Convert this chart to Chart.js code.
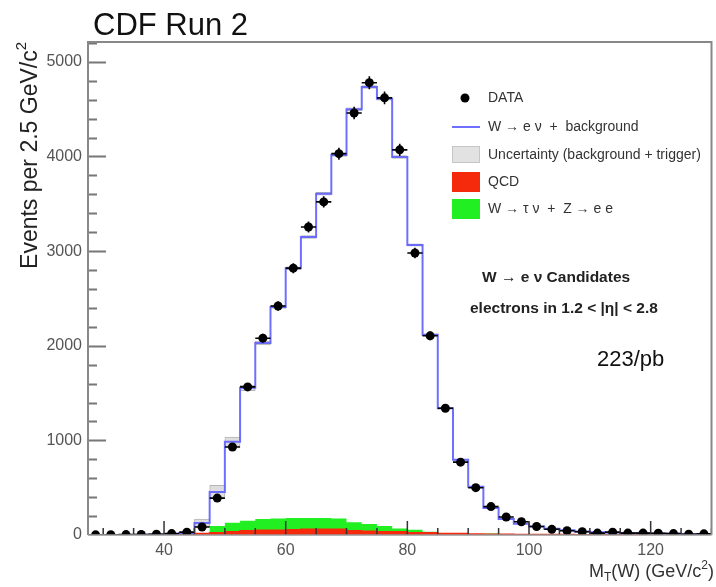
<!DOCTYPE html>
<html>
<head>
<meta charset="utf-8">
<script src="https://cdn.jsdelivr.net/npm/chart.js@4.4.1/dist/chart.umd.min.js"></script>
<style>
  html, body { margin: 0; padding: 0; background: #fff; }
  canvas { display: block; }
</style>
</head>
<body>
<canvas id="grafico" width="716" height="587"></canvas>
<script>
// centros dos bins de M_T (largura 2.5 GeV/c2)
const centros = [28.75, 31.25, 33.75, 36.25, 38.75, 41.25, 43.75, 46.25, 48.75, 51.25,
  53.75, 56.25, 58.75, 61.25, 63.75, 66.25, 68.75, 71.25, 73.75, 76.25,
  78.75, 81.25, 83.75, 86.25, 88.75, 91.25, 93.75, 96.25, 98.75, 101.25,
  103.75, 106.25, 108.75, 111.25, 113.75, 116.25, 118.75, 121.25, 123.75, 126.25, 128.75];
const larguraBin = 2.5;

// eventos medidos (DATA)
const dados = [2, 3, 4, 6, 8, 15, 30, 85, 390, 930,
  1565, 2080, 2420, 2820, 3255, 3520, 4030, 4460, 4780, 4620,
  4070, 2980, 2105, 1340, 770, 500, 300, 190, 140, 90,
  60, 45, 35, 20, 30, 20, 20, 18, 15, 8, 12];
// W -> e nu + background
const simulacao = [0, 0, 0, 2, 5, 10, 20, 127, 455, 985,
  1555, 2030, 2410, 2820, 3150, 3605, 4015, 4500, 4735, 4610,
  3995, 3065, 2115, 1340, 795, 510, 285, 170, 120, 90,
  65, 50, 38, 30, 25, 21, 18, 15, 12, 10, 8];
// incerteza (background + trigger), meia largura
const incerteza = [0, 0, 0, 2, 3, 5, 8, 40, 70, 50,
  30, 20, 15, 15, 15, 15, 15, 15, 15, 15,
  15, 12, 10, 10, 8, 6, 5, 4, 3, 3,
  2, 2, 2, 1, 1, 1, 1, 1, 1, 1, 1];
// QCD
const qcd = [0, 0, 0, 2, 4, 6, 10, 15, 25, 35,
  45, 50, 50, 55, 60, 60, 60, 45, 40, 35,
  35, 25, 25, 15, 15, 10, 8, 8, 6, 5,
  5, 4, 3, 3, 2, 2, 2, 2, 1, 1, 1];
// W -> tau nu + Z -> e e
const tauZ = [0, 0, 0, 0, 1, 2, 3, 5, 70, 95,
  105, 120, 125, 125, 120, 120, 115, 90, 75, 60,
  35, 30, 10, 5, 0, 0, 8, 0, 0, 0,
  0, 5, 0, 0, 0, 0, 0, 0, 0, 0, 0];

const ticksX = [40, 60, 80, 100, 120];
const ticksY = [0, 1000, 2000, 3000, 4000, 5000];

const corQcd = '#f52a0c';
const corTau = '#22ef22';
const corMc = 'rgba(95,95,255,0.9)';

// histograma em degraus: um ponto por borda de bin
function degraus(valores) {
  const pts = centros.map((c, i) => ({ x: c - larguraBin / 2, y: valores[i] }));
  pts.push({ x: centros[centros.length - 1] + larguraBin / 2, y: valores[valores.length - 1] });
  return pts;
}

const fundoTotal = qcd.map((v, i) => v + tauZ[i]);

// texto com indices (sub/sobrescrito)
function textoComposto(ctx, partes, x, y, tamanho, alinhar) {
  let total = 0;
  partes.forEach(p => {
    ctx.font = (p.esc ? Math.round(tamanho * 0.65) : tamanho) + 'px "Liberation Sans", Arial, sans-serif';
    total += ctx.measureText(p.t).width;
  });
  let px = alinhar === 'right' ? x - total : x;
  partes.forEach(p => {
    ctx.font = (p.esc ? Math.round(tamanho * 0.65) : tamanho) + 'px "Liberation Sans", Arial, sans-serif';
    ctx.fillText(p.t, px, y + (p.dy || 0));
    px += ctx.measureText(p.t).width;
  });
}

const estiloRoot = {
  id: 'estiloRoot',
  afterDatasetsDraw(chart) {
    const { ctx, chartArea: a, scales: { x, y } } = chart;
    ctx.save();
    ctx.beginPath();
    ctx.rect(a.left, a.top, a.right - a.left, a.bottom - a.top);
    ctx.clip();

    // barras de erro dos dados
    ctx.strokeStyle = '#000';
    ctx.lineWidth = 1.6;
    centros.forEach((c, i) => {
      const py = y.getPixelForValue(dados[i]);
      const erro = Math.sqrt(dados[i]);
      ctx.beginPath();
      ctx.moveTo(x.getPixelForValue(c - larguraBin / 2), py);
      ctx.lineTo(x.getPixelForValue(c + larguraBin / 2), py);
      ctx.moveTo(x.getPixelForValue(c), y.getPixelForValue(dados[i] - erro));
      ctx.lineTo(x.getPixelForValue(c), y.getPixelForValue(dados[i] + erro));
      ctx.stroke();
    });

    // marcas do eixo x (para dentro)
    ctx.strokeStyle = '#333';
    ctx.lineWidth = 1.5;
    for (let v = 30; v <= 130; v += 5) {
      const px = x.getPixelForValue(v);
      const len = v % 20 === 0 ? 14 : 7;
      ctx.beginPath();
      ctx.moveTo(px, a.bottom);
      ctx.lineTo(px, a.bottom - len);
      ctx.stroke();
    }
    // marcas do eixo y
    ctx.strokeStyle = '#777';
    ctx.lineWidth = 2;
    for (let v = 0; v <= 5200; v += 200) {
      const py = Math.round(y.getPixelForValue(v)) + 0.5;
      const len = v % 1000 === 0 ? 18 : 9;
      ctx.beginPath();
      ctx.moveTo(a.left, py);
      ctx.lineTo(a.left + len, py);
      ctx.stroke();
    }
    ctx.restore();

    // moldura
    ctx.save();
    ctx.strokeStyle = '#888';
    ctx.lineWidth = 2;
    ctx.beginPath();
    ctx.moveTo(a.left, a.bottom);
    ctx.lineTo(a.left, a.top);
    ctx.lineTo(a.right, a.top);
    ctx.lineTo(a.right, a.bottom);
    ctx.stroke();
    ctx.strokeStyle = '#999';
    ctx.lineWidth = 1.5;
    ctx.beginPath();
    ctx.moveTo(a.left, a.bottom);
    ctx.lineTo(a.right, a.bottom);
    ctx.stroke();
    ctx.restore();
  },
  afterDraw(chart) {
    const { ctx } = chart;
    ctx.save();
    ctx.fillStyle = '#111';
    ctx.textBaseline = 'alphabetic';
    ctx.font = '31px "Liberation Sans", Arial, sans-serif';
    ctx.fillText('CDF Run 2', 93, 35);

    // titulo do eixo y
    ctx.save();
    ctx.translate(31, 42);
    ctx.rotate(-Math.PI / 2);
    ctx.textBaseline = 'middle';
    ctx.fillStyle = '#222';
    textoComposto(ctx, [{ t: 'Events per 2.5 GeV/c' }, { t: '2', esc: true, dy: -9 }], 0, 0, 23, 'right');
    ctx.restore();

    // titulo do eixo x
    ctx.fillStyle = '#333';
    ctx.textBaseline = 'alphabetic';
    textoComposto(ctx, [
      { t: 'M' }, { t: 'T', esc: true, dy: 4 }, { t: '(W) (GeV/c' },
      { t: '2', esc: true, dy: -8 }, { t: ')' }
    ], 714, 577, 18, 'right');

    // legenda
    ctx.textBaseline = 'middle';
    ctx.fillStyle = '#000';
    ctx.beginPath();
    ctx.arc(465, 98, 4.5, 0, Math.PI * 2);
    ctx.fill();
    ctx.strokeStyle = corMc;
    ctx.lineWidth = 2;
    ctx.beginPath();
    ctx.moveTo(452, 127);
    ctx.lineTo(480, 127);
    ctx.stroke();
    ctx.fillStyle = '#e2e2e2';
    ctx.fillRect(452, 146, 28, 17);
    ctx.strokeStyle = '#aaa';
    ctx.lineWidth = 1;
    ctx.setLineDash([1, 1]);
    ctx.strokeRect(452.5, 146.5, 27, 16);
    ctx.setLineDash([]);
    ctx.fillStyle = corQcd;
    ctx.fillRect(452, 172, 28, 20);
    ctx.fillStyle = corTau;
    ctx.fillRect(452, 199, 28, 20);

    ctx.font = '14px "Liberation Sans", Arial, sans-serif';
    ctx.fillStyle = '#333';
    ctx.fillText('DATA', 488, 98);
    ctx.fillText('W \u2192 e \u03bd  +  background', 488, 127);
    ctx.fillText('Uncertainty (background + trigger)', 488, 155);
    ctx.fillText('QCD', 488, 182);
    ctx.fillText('W \u2192 \u03c4 \u03bd  +  Z \u2192 e e', 488, 209);

    // anotacoes
    ctx.font = 'bold 15.5px "Liberation Sans", Arial, sans-serif';
    ctx.fillStyle = '#222';
    ctx.fillText('W \u2192 e \u03bd Candidates', 482, 278);
    ctx.fillText('electrons in 1.2 < |\u03b7| < 2.8', 470, 309);
    ctx.font = '22px "Liberation Sans", Arial, sans-serif';
    ctx.fillStyle = '#111';
    ctx.fillText('223/pb', 597, 360);
    ctx.restore();
  }
};

const chart = new Chart(document.getElementById('grafico'), {
  type: 'line',
  data: {
    datasets: [
      {
        label: 'Uncertainty (background + trigger)',
        type: 'bar',
        data: centros.map((c, i) => ({ x: c, y: [simulacao[i] - incerteza[i], simulacao[i] + incerteza[i]] })),
        backgroundColor: '#dedede',
        borderColor: '#b5b5b5',
        borderWidth: 1,
        borderSkipped: false,
        barPercentage: 1,
        categoryPercentage: 1,
        grouped: false,
        order: 4
      },
      {
        label: 'W -> tau nu + Z -> e e',
        data: degraus(fundoTotal),
        stepped: 'before',
        borderWidth: 0,
        borderColor: corTau,
        backgroundColor: corTau,
        fill: 'origin',
        pointRadius: 0,
        order: 3
      },
      {
        label: 'QCD',
        data: degraus(qcd),
        stepped: 'before',
        borderWidth: 1.5,
        borderColor: corQcd,
        backgroundColor: corQcd,
        fill: 'origin',
        pointRadius: 0,
        order: 2
      },
      {
        label: 'W -> e nu + background',
        data: degraus(simulacao),
        stepped: 'before',
        borderWidth: 2,
        borderColor: corMc,
        fill: false,
        pointRadius: 0,
        order: 1
      },
      {
        label: 'DATA',
        data: centros.map((c, i) => ({ x: c, y: dados[i] })),
        showLine: false,
        pointRadius: 4.5,
        pointBackgroundColor: '#000',
        pointBorderWidth: 0,
        order: 0
      }
    ]
  },
  options: {
    responsive: false,
    animation: false,
    layout: { padding: { top: 42, right: 2, left: 0, bottom: 0 } },
    plugins: {
      legend: { display: false },
      tooltip: { enabled: false }
    },
    scales: {
      x: {
        type: 'linear',
        min: 27.5,
        max: 130,
        offset: false,
        afterFit: s => { s.height = 52; },
        afterBuildTicks: s => { s.ticks = ticksX.map(v => ({ value: v })); },
        grid: { display: false, drawTicks: false },
        border: { display: false },
        ticks: {
          padding: 6,
          maxRotation: 0,
          color: '#555',
          callback: v => String(v),
          font: { family: '"Liberation Sans", Arial, sans-serif', size: 16 }
        }
      },
      y: {
        min: 0,
        max: 5210,
        afterFit: s => { s.width = 88; },
        afterBuildTicks: s => { s.ticks = ticksY.map(v => ({ value: v })); },
        grid: { display: false, drawTicks: false },
        border: { display: false },
        ticks: {
          padding: 6,
          color: '#555',
          callback: v => String(v),
          font: { family: '"Liberation Sans", Arial, sans-serif', size: 16 }
        }
      }
    }
  },
  plugins: [estiloRoot]
});
</script>
</body>
</html>
